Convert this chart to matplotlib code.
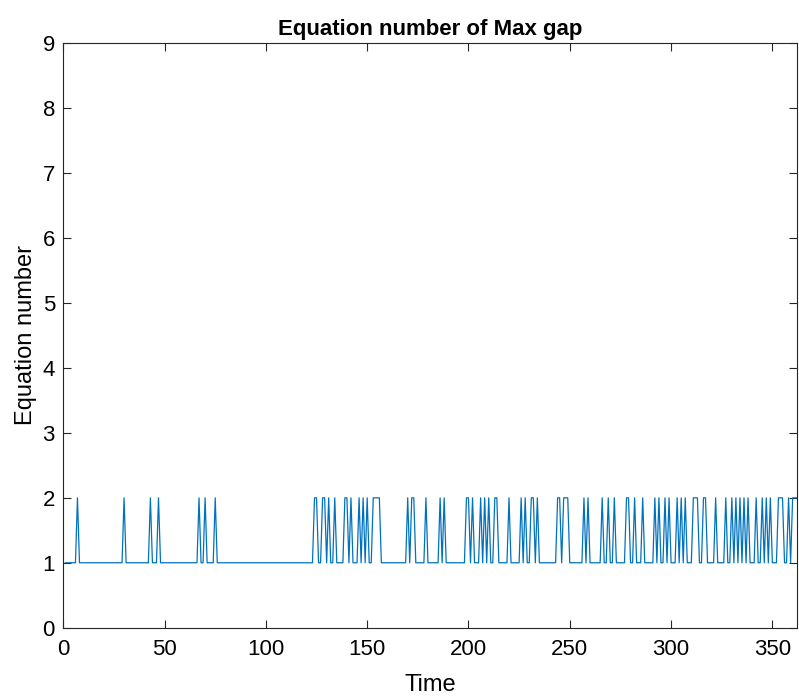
import numpy as np
import matplotlib
matplotlib.use('Agg')
import matplotlib.pyplot as plt

plt.rcParams['font.family'] = ['Liberation Sans', 'DejaVu Sans']

# time steps and the steps where the max gap sits in equation 2 (all others are equation 1)
n_steps = 362
steps_eq2 = [7, 30, 43, 47, 67, 70, 75,
             124, 125, 128, 129, 131, 134, 139, 140, 142, 146, 148, 150, 153, 154, 155, 156,
             170, 172, 173, 179, 186, 188,
             199, 200, 202, 206, 208, 210, 213, 214, 220, 226, 228, 231, 232, 234,
             244, 245, 247, 248, 249, 257, 259, 266, 269, 272, 278, 279, 282, 286,
             292, 294, 297, 299, 303, 305, 307,
             311, 312, 313, 316, 317, 322, 327, 330, 332, 334, 336, 338, 342, 345, 347, 349,
             353, 354, 355, 358, 360, 361, 362]

t = np.arange(1, n_steps + 1)
eq = np.ones(n_steps)
eq[np.array(steps_eq2) - 1] = 2

fig = plt.figure(figsize=(7.99, 6.98), dpi=100)
ax = fig.add_axes([0.0792, 0.1007, 0.9179, 0.8373])
ax.plot(t, eq, color='#0072BD', lw=0.9)

ax.set_xlim(0, 362)
ax.set_ylim(0, 9)
ax.set_xticks(np.arange(0, 351, 50))
ax.set_yticks(np.arange(0, 10, 1))

axcol = '#262626'
for s in ax.spines.values():
    s.set_color(axcol)
    s.set_linewidth(0.8)
ax.tick_params(direction='in', length=5.5, width=0.8, color=axcol, labelcolor='black',
               labelsize=16, top=True, right=True)
ax.tick_params(axis='x', pad=8)
ax.tick_params(axis='y', pad=6)

ax.set_title('Equation number of Max gap', fontsize=16, fontweight='bold', pad=6)
ax.set_xlabel('Time', fontsize=17, labelpad=10)
ax.set_ylabel('Equation number', fontsize=17, labelpad=4)

fig.savefig('out.png', dpi=100)
